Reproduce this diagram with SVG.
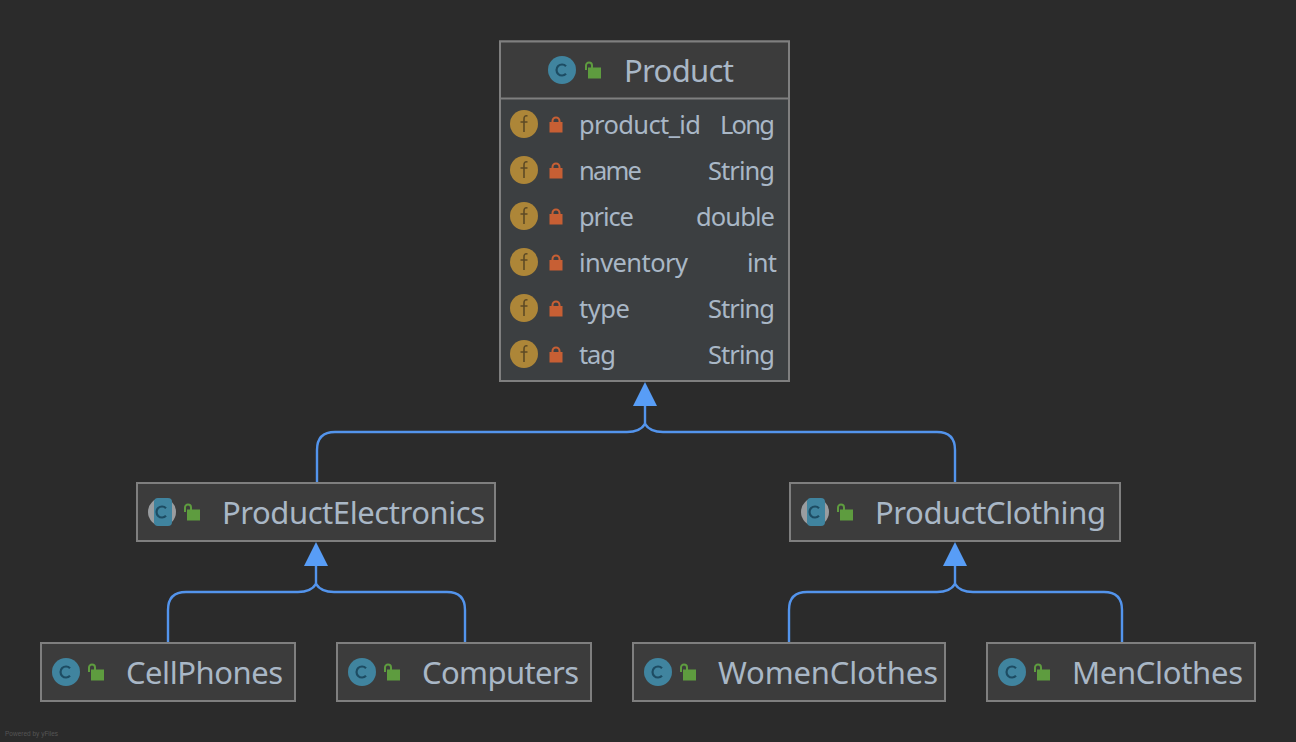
<svg xmlns="http://www.w3.org/2000/svg" width="1296" height="742" viewBox="0 0 1296 742">
<style>
text{font-family:"Noto Sans","Open Sans","Liberation Sans",sans-serif;fill:#a9b7c6}
.t{font-size:31px}
.f{font-size:25.5px}
.box{fill:#3c3f41;stroke:#7f7f7f;stroke-width:2}
.hd{fill:#3c3c3c;stroke:#7f7f7f;stroke-width:2}
.e{fill:none;stroke:#5394ec;stroke-width:2.4}
.a{fill:#589df6}
</style>
<defs>
<g id="cls"><circle r="14" fill="#40849f"/><path d="M4 -3.800A5.500 5.500 0 1 0 4 3.800" fill="none" stroke="#1d4c63" stroke-width="2.200"/></g>
<g id="acls"><circle r="14" fill="#9a9da0"/><rect x="-8" y="-14" width="18" height="28" rx="4" fill="#40849f"/><path d="M4 -3.800A5.500 5.500 0 1 0 4 3.800" fill="none" stroke="#1d4c63" stroke-width="2.200"/></g>
<g id="pub"><rect x="-5" y="-2.500" width="13" height="11" fill="#5e9c3f"/><path d="M-7 0V-4.500A3 3 0 0 1 -1 -4.500V-2" fill="none" stroke="#5e9c3f" stroke-width="2"/></g>
<g id="fld"><circle r="14" fill="#ad8638"/><path d="M3.500 -8Q0 -9 0 -5V8M-3.500 -2H3.500" fill="none" stroke="#5d4a25" stroke-width="1.600"/></g>
<g id="prv"><rect x="-6.500" y="-2" width="13" height="10.500" fill="#c75f34"/><path d="M-3.500 -2V-3A3.500 3.500 0 0 1 3.500 -3V-2" fill="none" stroke="#c75f34" stroke-width="2"/></g>
<path id="tri" class="a" d="M-12 24L0 0L12 24Z"/>
</defs>
<rect width="1296" height="742" fill="#2b2b2b"/>
<g id="connectors">
<path class="e" d="M645 404V424"/>
<path class="e" d="M317 482V450Q317 432 335 432H627Q640 432 645 424"/>
<path class="e" d="M955 482V450Q955 432 937 432H663Q650 432 645 424"/>
<use href="#tri" x="645" y="382"/>
<path class="e" d="M316 564V584"/>
<path class="e" d="M168 642V610Q168 592 186 592H298Q311 592 316 584"/>
<path class="e" d="M465 642V610Q465 592 447 592H334Q321 592 316 584"/>
<use href="#tri" x="316" y="542"/>
<path class="e" d="M955 564V584"/>
<path class="e" d="M789 642V610Q789 592 807 592H937Q950 592 955 584"/>
<path class="e" d="M1122 642V610Q1122 592 1104 592H973Q960 592 955 584"/>
<use href="#tri" x="955" y="542"/>
</g>
<g id="Product">
<rect class="box" x="500" y="41.500" width="289" height="339.500"/>
<rect class="hd" x="500" y="41.500" width="289" height="57"/>
<use href="#cls" x="562" y="70"/><use href="#pub" x="593" y="70"/>
<text class="t" x="624" y="82" textLength="110">Product</text>
<g><use href="#fld" x="524" y="124"/><use href="#prv" x="556" y="124"/><text class="f" x="579" y="134" textLength="122">product_id</text><text class="f" x="720" y="134" textLength="55">Long</text></g>
<g><use href="#fld" x="524" y="170"/><use href="#prv" x="556" y="170"/><text class="f" x="579" y="180" textLength="63">name</text><text class="f" x="708" y="180" textLength="67">String</text></g>
<g><use href="#fld" x="524" y="216"/><use href="#prv" x="556" y="216"/><text class="f" x="579" y="226" textLength="55">price</text><text class="f" x="696" y="226" textLength="79">double</text></g>
<g><use href="#fld" x="524" y="262"/><use href="#prv" x="556" y="262"/><text class="f" x="579" y="272" textLength="109">inventory</text><text class="f" x="747" y="272" textLength="30">int</text></g>
<g><use href="#fld" x="524" y="308"/><use href="#prv" x="556" y="308"/><text class="f" x="579" y="318" textLength="51">type</text><text class="f" x="708" y="318" textLength="67">String</text></g>
<g><use href="#fld" x="524" y="354"/><use href="#prv" x="556" y="354"/><text class="f" x="579" y="364" textLength="37">tag</text><text class="f" x="708" y="364" textLength="67">String</text></g>
</g>
<g id="ProductElectronics"><rect class="hd" x="137" y="483" width="358" height="58"/><use href="#acls" x="162" y="512"/><use href="#pub" x="192" y="512"/><text class="t" x="222" y="524" textLength="263">ProductElectronics</text></g>
<g id="ProductClothing"><rect class="hd" x="790" y="483" width="330" height="58"/><use href="#acls" x="815" y="512"/><use href="#pub" x="845" y="512"/><text class="t" x="875" y="524" textLength="231">ProductClothing</text></g>
<g id="CellPhones"><rect class="hd" x="41" y="643" width="254" height="58"/><use href="#cls" x="66" y="672"/><use href="#pub" x="96" y="672"/><text class="t" x="126" y="684" textLength="157">CellPhones</text></g>
<g id="Computers"><rect class="hd" x="337" y="643" width="254" height="58"/><use href="#cls" x="362" y="672"/><use href="#pub" x="392" y="672"/><text class="t" x="422" y="684" textLength="157">Computers</text></g>
<g id="WomenClothes"><rect class="hd" x="633" y="643" width="312" height="58"/><use href="#cls" x="658" y="672"/><use href="#pub" x="688" y="672"/><text class="t" x="718" y="684" textLength="220">WomenClothes</text></g>
<g id="MenClothes"><rect class="hd" x="987" y="643" width="268" height="58"/><use href="#cls" x="1012" y="672"/><use href="#pub" x="1042" y="672"/><text class="t" x="1072" y="684" textLength="171">MenClothes</text></g>
<text x="5" y="736" style="font-family:'Liberation Sans',sans-serif;font-size:6.500px;fill:#555">Powered by yFiles</text>
</svg>
